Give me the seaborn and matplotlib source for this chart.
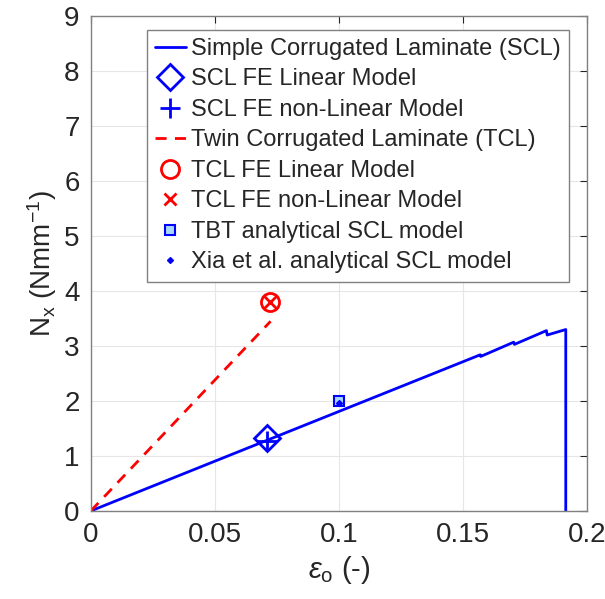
import seaborn as sns
import matplotlib.pyplot as plt
import pandas as pd

# Simple corrugated laminate (SCL) curve
scl_strain = [0, 0.1570, 0.1572, 0.1705, 0.1708, 0.1837, 0.1840, 0.1915, 0.1915]
scl_load = [0, 2.84, 2.81, 3.07, 3.03, 3.28, 3.20, 3.30, 0]

# Twin corrugated laminate (TCL) curve
tcl_strain = [0, 0.0725]
tcl_load = [0, 3.45]

# point results
scl_fe_lin = (0.0710, 1.33)
scl_fe_nonlin = (0.0710, 1.27)
tcl_fe_lin = (0.0722, 3.80)
tcl_fe_nonlin = (0.0722, 3.80)
tbt_scl = (0.1, 2.0)
xia_scl = (0.1, 1.97)

sns.set_style("white")
plt.rcParams['font.family'] = ['Liberation Sans', 'DejaVu Sans']
plt.rcParams['mathtext.fontset'] = 'custom'
plt.rcParams['mathtext.rm'] = 'Liberation Sans'
plt.rcParams['mathtext.it'] = 'Liberation Sans:italic'

fig = plt.figure(figsize=(6.05, 5.99), dpi=100)
ax = fig.add_axes([0.150, 0.147, 0.820, 0.826])

scl = pd.DataFrame({"x": scl_strain, "y": scl_load})
tcl = pd.DataFrame({"x": tcl_strain, "y": tcl_load})
sns.lineplot(data=scl, x="x", y="y", sort=False, estimator=None, color="blue",
             lw=2, label="Simple Corrugated Laminate (SCL)", ax=ax)
ax.plot(*scl_fe_lin, ls="none", marker="D", ms=13, mfc="none", mec="blue",
        mew=2, label="SCL FE Linear Model")
ax.plot(*scl_fe_nonlin, ls="none", marker="+", ms=15, mec="blue", mew=2,
        label="SCL FE non-Linear Model")
sns.lineplot(data=tcl, x="x", y="y", sort=False, estimator=None, color="red",
             lw=2, ls=(0, (4, 3)), label="Twin Corrugated Laminate (TCL)", ax=ax)
ax.plot(*tcl_fe_lin, ls="none", marker="o", ms=13, mfc="none", mec="red",
        mew=2, label="TCL FE Linear Model")
ax.plot(*tcl_fe_nonlin, ls="none", marker="x", ms=9, mec="red", mew=2,
        label="TCL FE non-Linear Model")
ax.plot(*tbt_scl, ls="none", marker="s", ms=7, mfc="#a8d8f8", mec="blue",
        mew=1.5, label="TBT analytical SCL model")
ax.plot(*xia_scl, ls="none", marker="D", ms=3, mfc="blue", mec="blue",
        label="Xia et al. analytical SCL model")

ax.set_xlim(0, 0.2)
ax.set_ylim(0, 9)
ax.set_xticks([0, 0.05, 0.1, 0.15, 0.2])
ax.set_xticklabels(["0", "0.05", "0.1", "0.15", "0.2"])
ax.set_yticks(range(10))
ax.grid(True, color="#e6e6e6", lw=0.8)
ax.tick_params(direction="in", length=5, top=True, right=True,
               labelsize=20, colors="#262626", pad=8)
for s in ax.spines.values():
    s.set_color("#808080")
    s.set_linewidth(1)

ax.set_xlabel(r"$\epsilon_{\rm o}$ (-)", fontsize=21, color="#262626")
ax.set_ylabel(r"N$_{\rm x}$ (Nmm$^{-1}$)", fontsize=20, color="#262626")

leg = ax.legend(loc="upper right", bbox_to_anchor=(0.965, 0.973), fontsize=17,
                handlelength=1.3, handletextpad=0.25, borderpad=0.35,
                labelspacing=0.36, fancybox=False, framealpha=1,
                edgecolor="#808080", borderaxespad=0)
for t in leg.get_texts():
    t.set_color("#262626")

fig.savefig("out.png", dpi=100)
